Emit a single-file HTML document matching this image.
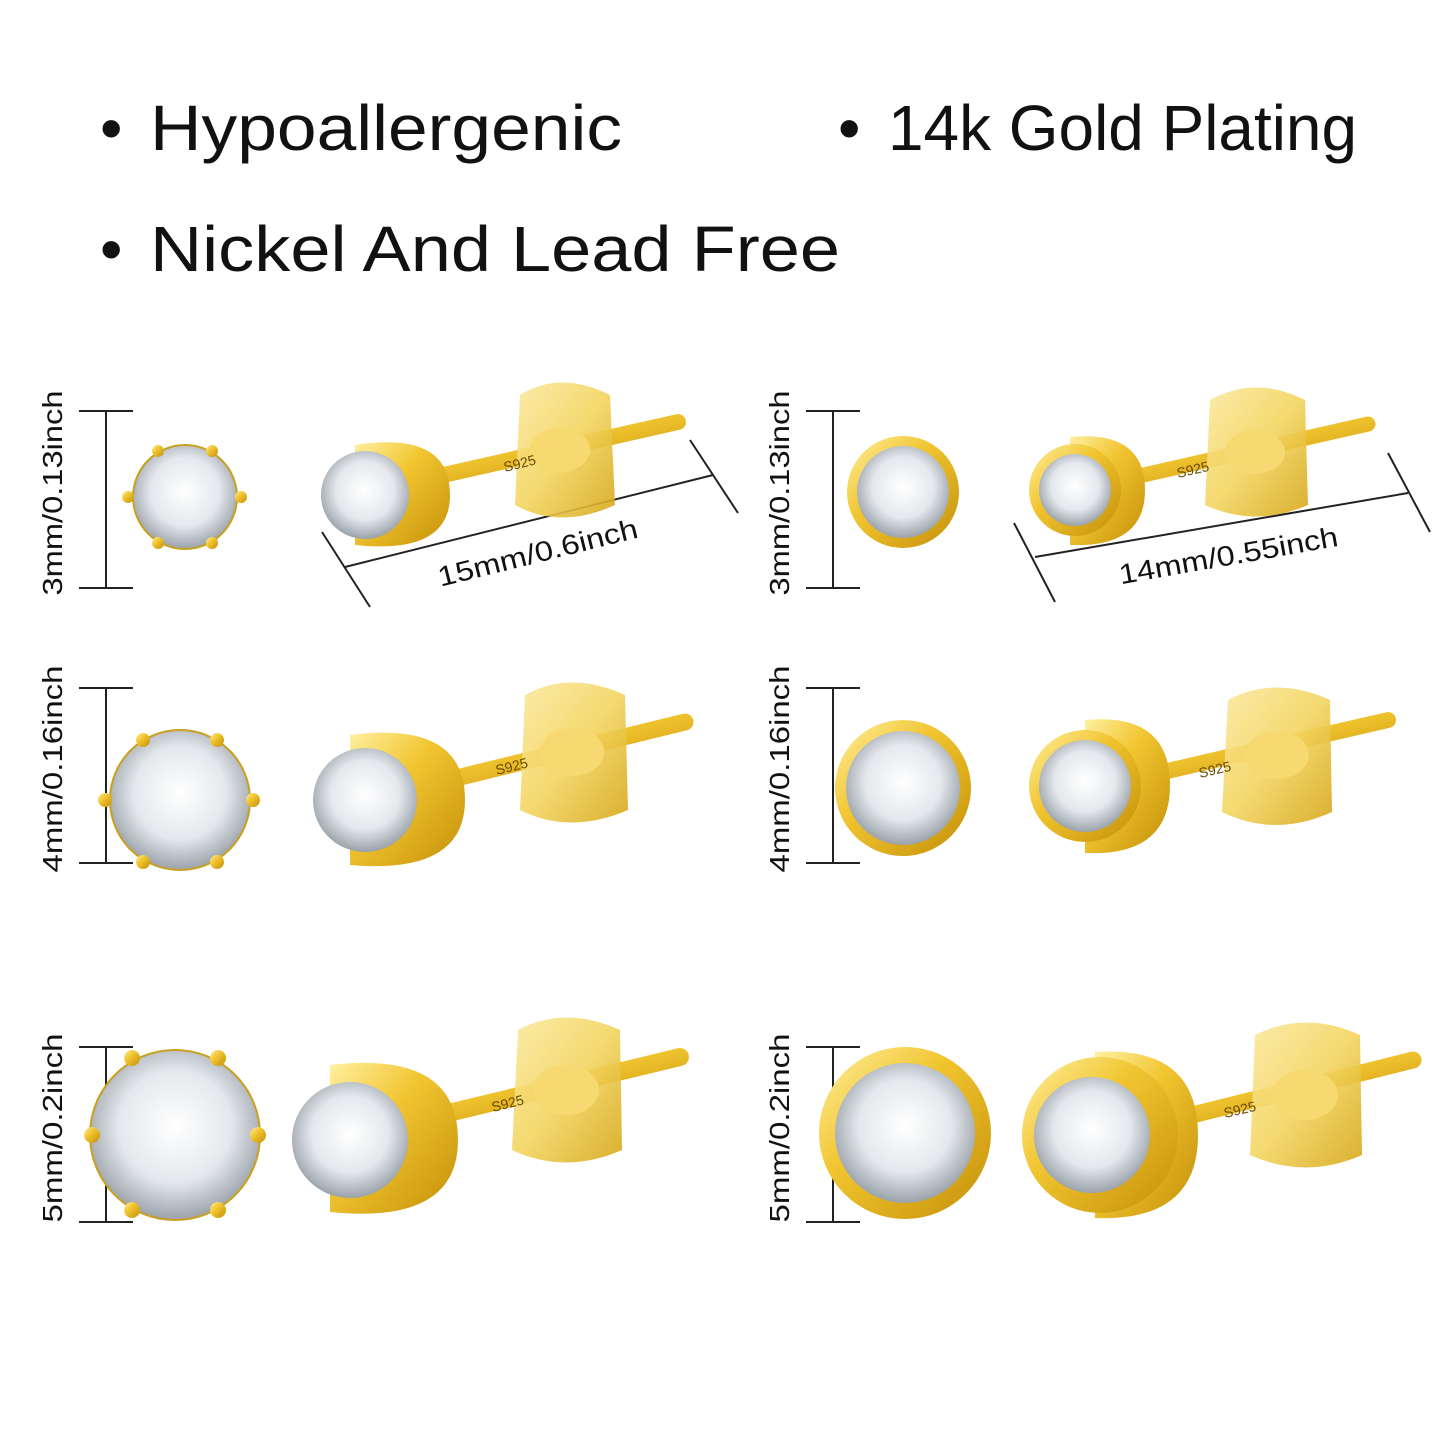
<!DOCTYPE html>
<html><head><meta charset="utf-8"><style>
html,body{margin:0;padding:0;background:#fff;}
svg{display:block}
</style></head><body>
<svg width="1445" height="1445" viewBox="0 0 1445 1445" xmlns="http://www.w3.org/2000/svg">
<defs>
<radialGradient id="dia" cx="50%" cy="45%" r="55%">
<stop offset="0" stop-color="#ffffff"/><stop offset="0.6" stop-color="#e4e8ec"/><stop offset="1" stop-color="#9aa2aa"/>
</radialGradient>
<linearGradient id="gold" x1="0" y1="0" x2="1" y2="1">
<stop offset="0" stop-color="#fff0a0"/><stop offset="0.4" stop-color="#f1c530"/><stop offset="1" stop-color="#c48f08"/>
</linearGradient>
<linearGradient id="goldb" x1="0" y1="0" x2="1" y2="1">
<stop offset="0" stop-color="#fbe9a0"/><stop offset="0.5" stop-color="#f3d560"/><stop offset="1" stop-color="#d6a617"/>
</linearGradient>
</defs>

<g font-family="'Liberation Sans','DejaVu Sans',sans-serif" fill="#111" font-size="64">
<text x="100" y="150">•</text>
<text x="150" y="150" textLength="472" lengthAdjust="spacingAndGlyphs">Hypoallergenic</text>
<text x="838" y="150">•</text>
<text x="888" y="150" textLength="469" lengthAdjust="spacingAndGlyphs">14k Gold Plating</text>
<text x="100" y="271">•</text>
<text x="150" y="271" textLength="690" lengthAdjust="spacingAndGlyphs">Nickel And Lead Free</text>
</g>

<!-- brackets -->
<g stroke="#222" stroke-width="2" fill="none">
<path d="M79,411H133M106,411V588M79,588H133"/>
<path d="M79,688H133M106,688V863M79,863H133"/>
<path d="M79,1047H133M106,1047V1222M79,1222H133"/>
<path d="M806,411H860M833,411V588M806,588H860"/>
<path d="M806,688H860M833,688V863M806,863H860"/>
<path d="M806,1047H860M833,1047V1222M806,1222H860"/>
<path d="M322,532L370,607M345,567L713,475M690,440L738,513"/>
<path d="M1014,523L1055,602M1035,557L1408,493M1388,453L1430,532"/>
</g>
<g font-family="'Liberation Sans','DejaVu Sans',sans-serif" font-size="28" fill="#111" text-anchor="middle">
<text transform="translate(62,493) rotate(-90)" textLength="205" lengthAdjust="spacingAndGlyphs">3mm/0.13inch</text>
<text transform="translate(62,769) rotate(-90)" textLength="207" lengthAdjust="spacingAndGlyphs">4mm/0.16inch</text>
<text transform="translate(62,1128) rotate(-90)" textLength="189" lengthAdjust="spacingAndGlyphs">5mm/0.2inch</text>
<text transform="translate(789,493) rotate(-90)" textLength="205" lengthAdjust="spacingAndGlyphs">3mm/0.13inch</text>
<text transform="translate(789,769) rotate(-90)" textLength="207" lengthAdjust="spacingAndGlyphs">4mm/0.16inch</text>
<text transform="translate(789,1128) rotate(-90)" textLength="189" lengthAdjust="spacingAndGlyphs">5mm/0.2inch</text>
<text transform="translate(540,562) rotate(-14)" textLength="205" lengthAdjust="spacingAndGlyphs">15mm/0.6inch</text>
<text transform="translate(1230,565) rotate(-10)" textLength="222" lengthAdjust="spacingAndGlyphs">14mm/0.55inch</text>
</g>

<g>
<g>
<circle cx="185" cy="497" r="52" fill="url(#dia)" stroke="#c9a020" stroke-width="2"/>
<g fill="url(#gold)"><circle cx="158" cy="451" r="6"/><circle cx="212" cy="451" r="6"/><circle cx="128" cy="497" r="6"/><circle cx="241" cy="497" r="6"/><circle cx="158" cy="543" r="6"/><circle cx="212" cy="543" r="6"/></g>
<line x1="430" y1="478" x2="678" y2="422" stroke="url(#gold)" stroke-width="16" stroke-linecap="round"/>
<path d="M520,395 Q560,370 610,395 L615,505 Q560,530 515,505 Z" fill="url(#goldb)" opacity="0.9"/>
<ellipse cx="560" cy="450" rx="30" ry="22" fill="#f6d970"/>
<path d="M355,445 Q450,430 450,495 Q450,555 355,545 Z" fill="url(#gold)"/>
<circle cx="365" cy="495" r="44" fill="url(#dia)"/>
<text x="505" y="472" font-family="'Liberation Sans',sans-serif" font-size="14" fill="#6a4a00" transform="rotate(-14 505 472)">S925</text>
</g>
<g>
<circle cx="180" cy="800" r="70" fill="url(#dia)" stroke="#c9a020" stroke-width="2"/>
<g fill="url(#gold)"><circle cx="143" cy="740" r="7"/><circle cx="217" cy="740" r="7"/><circle cx="105" cy="800" r="7"/><circle cx="253" cy="800" r="7"/><circle cx="143" cy="862" r="7"/><circle cx="217" cy="862" r="7"/></g>
<line x1="440" y1="782" x2="685" y2="722" stroke="url(#gold)" stroke-width="17" stroke-linecap="round"/>
<path d="M525,695 Q570,670 625,695 L628,810 Q570,835 520,810 Z" fill="url(#goldb)" opacity="0.9"/>
<ellipse cx="572" cy="752" rx="32" ry="24" fill="#f6d970"/>
<path d="M350,735 Q465,720 465,800 Q465,875 350,865 Z" fill="url(#gold)"/>
<circle cx="365" cy="800" r="52" fill="url(#dia)"/>
<text x="497" y="775" font-family="'Liberation Sans',sans-serif" font-size="14" fill="#6a4a00" transform="rotate(-14 497 775)">S925</text>
</g>
<g>
<circle cx="175" cy="1135" r="85" fill="url(#dia)" stroke="#c9a020" stroke-width="2"/>
<g fill="url(#gold)"><circle cx="132" cy="1058" r="8"/><circle cx="218" cy="1058" r="8"/><circle cx="92" cy="1135" r="8"/><circle cx="258" cy="1135" r="8"/><circle cx="132" cy="1210" r="8"/><circle cx="218" cy="1210" r="8"/></g>
<line x1="440" y1="1115" x2="680" y2="1057" stroke="url(#gold)" stroke-width="18" stroke-linecap="round"/>
<path d="M518,1030 Q565,1005 620,1030 L622,1150 Q565,1175 512,1150 Z" fill="url(#goldb)" opacity="0.9"/>
<ellipse cx="566" cy="1090" rx="33" ry="25" fill="#f6d970"/>
<path d="M330,1065 Q458,1050 458,1140 Q458,1225 330,1212 Z" fill="url(#gold)"/>
<circle cx="350" cy="1140" r="58" fill="url(#dia)"/>
<text x="493" y="1112" font-family="'Liberation Sans',sans-serif" font-size="14" fill="#6a4a00" transform="rotate(-14 493 1112)">S925</text>
</g>

<g>
<circle cx="903" cy="492" r="56" fill="url(#gold)"/>
<circle cx="903" cy="492" r="46" fill="url(#dia)"/>
<line x1="1130" y1="478" x2="1368" y2="424" stroke="url(#gold)" stroke-width="15" stroke-linecap="round"/>
<path d="M1210,400 Q1255,375 1305,400 L1308,505 Q1255,528 1205,505 Z" fill="url(#goldb)" opacity="0.9"/>
<ellipse cx="1255" cy="452" rx="30" ry="22" fill="#f6d970"/>
<path d="M1070,437 Q1145,430 1145,490 Q1145,548 1070,545 Z" fill="url(#gold)"/>
<circle cx="1075" cy="490" r="46" fill="url(#gold)"/>
<circle cx="1075" cy="490" r="36" fill="url(#dia)"/>
<text x="1178" y="478" font-family="'Liberation Sans',sans-serif" font-size="14" fill="#6a4a00" transform="rotate(-13 1178 478)">S925</text>
</g>
<g>
<circle cx="903" cy="788" r="68" fill="url(#gold)"/>
<circle cx="903" cy="788" r="57" fill="url(#dia)"/>
<line x1="1150" y1="775" x2="1388" y2="720" stroke="url(#gold)" stroke-width="16" stroke-linecap="round"/>
<path d="M1228,700 Q1275,675 1330,700 L1332,812 Q1275,838 1222,812 Z" fill="url(#goldb)" opacity="0.9"/>
<ellipse cx="1277" cy="755" rx="32" ry="24" fill="#f6d970"/>
<path d="M1085,720 Q1170,712 1170,785 Q1170,857 1085,853 Z" fill="url(#gold)"/>
<circle cx="1085" cy="786" r="56" fill="url(#gold)"/>
<circle cx="1085" cy="786" r="46" fill="url(#dia)"/>
<text x="1200" y="778" font-family="'Liberation Sans',sans-serif" font-size="14" fill="#6a4a00" transform="rotate(-13 1200 778)">S925</text>
</g>
<g>
<circle cx="905" cy="1133" r="86" fill="url(#gold)"/>
<circle cx="905" cy="1133" r="70" fill="url(#dia)"/>
<line x1="1180" y1="1118" x2="1413" y2="1060" stroke="url(#gold)" stroke-width="17" stroke-linecap="round"/>
<path d="M1255,1035 Q1305,1010 1360,1035 L1362,1155 Q1305,1180 1250,1155 Z" fill="url(#goldb)" opacity="0.9"/>
<ellipse cx="1305" cy="1095" rx="33" ry="25" fill="#f6d970"/>
<path d="M1095,1052 Q1198,1045 1198,1135 Q1198,1222 1095,1218 Z" fill="url(#gold)"/>
<circle cx="1100" cy="1135" r="78" fill="url(#gold)"/>
<circle cx="1092" cy="1135" r="58" fill="url(#dia)"/>
<text x="1225" y="1118" font-family="'Liberation Sans',sans-serif" font-size="14" fill="#6a4a00" transform="rotate(-13 1225 1118)">S925</text>
</g>
</g>
</svg>
</body></html>
